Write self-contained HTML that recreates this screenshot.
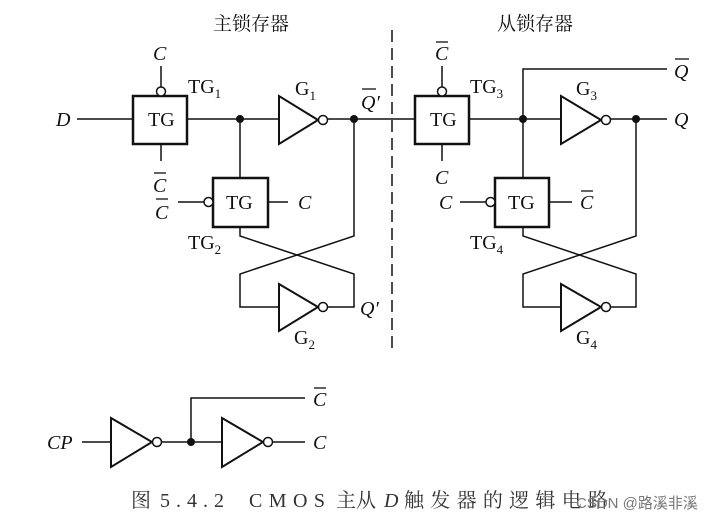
<!DOCTYPE html>
<html><head><meta charset="utf-8"><style>
html,body{margin:0;padding:0;background:#fff}
svg{display:block}
text{font-family:"Liberation Serif","Noto Serif CJK SC",serif;fill:#111}
.i{font-style:italic}
</style></head><body>
<svg width="720" height="525" viewBox="0 0 720 525" xmlns="http://www.w3.org/2000/svg">
<g stroke="#111" stroke-width="1.5" fill="none">
<line x1="77" y1="119" x2="133" y2="119"/>
<rect x="133" y="96" width="54" height="48" stroke-width="2.5"/>
<line x1="161" y1="66" x2="161" y2="87"/>
<circle cx="161" cy="91.5" r="4.5" fill="#fff"/>
<line x1="161" y1="144" x2="161" y2="161"/>
<line x1="187" y1="119" x2="279" y2="119"/>
<polygon points="279,96 279,144 318,120" stroke-width="2"/>
<circle cx="323" cy="120" r="4.5" fill="#fff"/>
<line x1="328" y1="119" x2="415" y2="119"/>
<line x1="240" y1="119" x2="240" y2="178"/>
<rect x="213" y="178" width="55" height="49" stroke-width="2.5"/>
<line x1="178" y1="202" x2="204" y2="202"/>
<circle cx="208.5" cy="202" r="4.5" fill="#fff"/>
<line x1="268" y1="202" x2="288" y2="202"/>
<polyline points="240,227 240,236 354,274 354,307 328,307"/>
<polyline points="354,119 354,236 240,274 240,307 279,307"/>
<polygon points="279,284 279,331 318,307" stroke-width="2"/>
<circle cx="323" cy="307" r="4.5" fill="#fff"/>
<rect x="415" y="96" width="54" height="48" stroke-width="2.5"/>
<line x1="442" y1="66" x2="442" y2="87"/>
<circle cx="442" cy="91.5" r="4.5" fill="#fff"/>
<line x1="442" y1="144" x2="442" y2="161"/>
<line x1="469" y1="119" x2="561" y2="119"/>
<polygon points="561,96 561,144 601,120" stroke-width="2"/>
<circle cx="606" cy="120" r="4.5" fill="#fff"/>
<line x1="611" y1="119" x2="667" y2="119"/>
<polyline points="523,119 523,69 667,69"/>
<line x1="523" y1="119" x2="523" y2="178"/>
<rect x="495" y="178" width="54" height="49" stroke-width="2.5"/>
<line x1="460" y1="202" x2="486" y2="202"/>
<circle cx="490.5" cy="202" r="4.5" fill="#fff"/>
<line x1="549" y1="202" x2="572" y2="202"/>
<polyline points="523,227 523,236 636,274 636,307 611,307"/>
<polyline points="636,119 636,236 523,274 523,307 561,307"/>
<polygon points="561,284 561,331 601,307" stroke-width="2"/>
<circle cx="606" cy="307" r="4.5" fill="#fff"/>
<line x1="392" y1="30" x2="392" y2="352" stroke-dasharray="12,6"/>
<line x1="82" y1="442" x2="111" y2="442"/>
<polygon points="111,418 111,467 152,442" stroke-width="2"/>
<circle cx="157" cy="442" r="4.5" fill="#fff"/>
<line x1="162" y1="442" x2="222" y2="442"/>
<polyline points="191,442 191,398 305,398"/>
<polygon points="222,418 222,467 263,442" stroke-width="2"/>
<circle cx="268" cy="442" r="4.5" fill="#fff"/>
<line x1="273" y1="442" x2="305" y2="442"/>
</g>
<g fill="#111">
<circle cx="240" cy="119" r="4"/><circle cx="354" cy="119" r="4"/>
<circle cx="523" cy="119" r="4"/><circle cx="636" cy="119" r="4"/>
<circle cx="191" cy="442" r="4"/>
</g>
<g font-size="20">
<text x="213" y="30" font-size="19">主锁存器</text>
<text x="497" y="30" font-size="19">从锁存器</text>
<text x="148" y="126">TG</text><text x="430" y="126">TG</text>
<text x="226" y="209">TG</text><text x="508" y="209">TG</text>
<text x="56" y="126" class="i">D</text>
<text x="153" y="60" class="i">C</text>
<text x="153" y="192" class="i">C</text><line x1="154" y1="173" x2="166" y2="173" stroke="#111" stroke-width="1.3"/>
<text x="155" y="219" class="i">C</text><line x1="156" y1="199" x2="168" y2="199" stroke="#111" stroke-width="1.3"/>
<text x="298" y="209" class="i">C</text>
<text x="188" y="93">TG<tspan font-size="13" dy="5">1</tspan></text>
<text x="188" y="249">TG<tspan font-size="13" dy="5">2</tspan></text>
<text x="295" y="95">G<tspan font-size="13" dy="5">1</tspan></text>
<text x="294" y="344">G<tspan font-size="13" dy="5">2</tspan></text>
<text x="361" y="109" class="i">Q′</text><line x1="362" y1="89" x2="376" y2="89" stroke="#111" stroke-width="1.3"/>
<text x="360" y="315" class="i">Q′</text>
<text x="435" y="60" class="i">C</text><line x1="436" y1="42" x2="448" y2="42" stroke="#111" stroke-width="1.3"/>
<text x="435" y="184" class="i">C</text>
<text x="439" y="209" class="i">C</text>
<text x="580" y="209" class="i">C</text><line x1="581" y1="191" x2="593" y2="191" stroke="#111" stroke-width="1.3"/>
<text x="470" y="93">TG<tspan font-size="13" dy="5">3</tspan></text>
<text x="470" y="249">TG<tspan font-size="13" dy="5">4</tspan></text>
<text x="576" y="95">G<tspan font-size="13" dy="5">3</tspan></text>
<text x="576" y="344">G<tspan font-size="13" dy="5">4</tspan></text>
<text x="674" y="78" class="i">Q</text><line x1="675" y1="59" x2="689" y2="59" stroke="#111" stroke-width="1.3"/>
<text x="674" y="126" class="i">Q</text>
<text x="47" y="449" class="i">CP</text>
<text x="313" y="449" class="i">C</text>
<text x="313" y="406" class="i">C</text><line x1="314" y1="388" x2="326" y2="388" stroke="#111" stroke-width="1.3"/>
</g>
<g font-size="20" style="fill:#333">
<text x="131" y="507" style="fill:#333">图</text>
<text x="160" y="507" style="fill:#333" textLength="64" lengthAdjust="spacing">5.4.2</text>
<text x="249" y="507" style="fill:#333" textLength="76" lengthAdjust="spacing">CMOS</text>
<text x="336" y="507" style="fill:#333">主从</text>
<text x="384" y="507" class="i" style="fill:#333">D</text>
<text x="404" y="507" style="fill:#333" textLength="204" lengthAdjust="spacing">触发器的逻辑电路</text>
</g>
<text x="576" y="508" font-size="15" style="font-family:'Liberation Sans','Noto Sans CJK SC',sans-serif;fill:#777">CSDN @路溪非溪</text>
</svg>
</body></html>
